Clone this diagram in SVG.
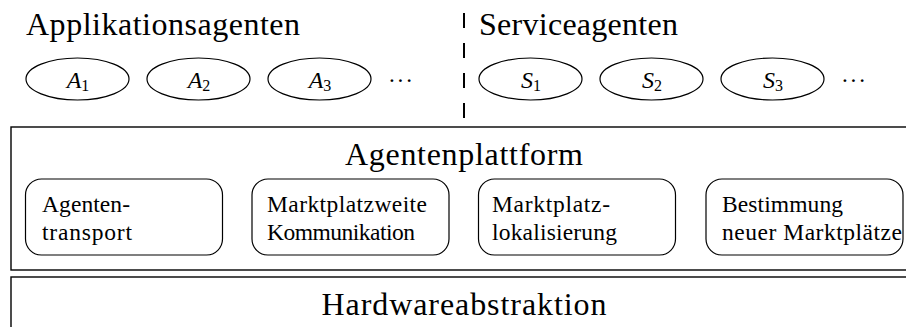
<svg xmlns="http://www.w3.org/2000/svg" width="906" height="327" viewBox="0 0 906 327">
<style>
text{font-family:"Liberation Serif","DejaVu Serif",serif;fill:#000}
.title{font-size:32px}
.lbl{font-size:23.5px}
.math{font-size:24px}
.agent{fill:#fff;stroke:#000;stroke-width:1.2}
.mod{fill:#fff;stroke:#000;stroke-width:1.2}
.layer{fill:#fff;stroke:#000;stroke-width:1.4}
.sep{stroke:#000;stroke-width:2;stroke-dasharray:15 15;fill:none}
.sub{font-size:16px;font-style:normal}
</style>
<rect width="906" height="327" fill="#fff"/>
<g id="titles">
<text class="title" x="26" y="35" textLength="274" lengthAdjust="spacing">Applikationsagenten</text>
<text class="title" x="479" y="35" textLength="199" lengthAdjust="spacing">Serviceagenten</text>
</g>
<g id="connectors">
<line class="sep" x1="464" y1="13" x2="464" y2="118"/>
</g>
<g id="A1"><ellipse class="agent" cx="77.5" cy="79" rx="51.5" ry="21"/><text class="math" x="78" y="88" text-anchor="middle"><tspan font-style="italic">A</tspan><tspan class="sub" dy="3">1</tspan></text></g>
<g id="A2"><ellipse class="agent" cx="198.5" cy="79" rx="51.5" ry="21"/><text class="math" x="199" y="88" text-anchor="middle"><tspan font-style="italic">A</tspan><tspan class="sub" dy="3">2</tspan></text></g>
<g id="A3"><ellipse class="agent" cx="319.5" cy="79" rx="51.5" ry="21"/><text class="math" x="320" y="88" text-anchor="middle"><tspan font-style="italic">A</tspan><tspan class="sub" dy="3">3</tspan></text></g>
<g id="Adots"><text class="lbl" x="388" y="88" textLength="25" lengthAdjust="spacing">· · ·</text></g>
<g id="S1"><ellipse class="agent" cx="530.5" cy="79" rx="51.5" ry="21"/><text class="math" x="531" y="88" text-anchor="middle"><tspan font-style="italic">S</tspan><tspan class="sub" dy="3">1</tspan></text></g>
<g id="S2"><ellipse class="agent" cx="651.5" cy="79" rx="51.5" ry="21"/><text class="math" x="652" y="88" text-anchor="middle"><tspan font-style="italic">S</tspan><tspan class="sub" dy="3">2</tspan></text></g>
<g id="S3"><ellipse class="agent" cx="772.5" cy="79" rx="51.5" ry="21"/><text class="math" x="773" y="88" text-anchor="middle"><tspan font-style="italic">S</tspan><tspan class="sub" dy="3">3</tspan></text></g>
<g id="Sdots"><text class="lbl" x="841" y="88" textLength="25" lengthAdjust="spacing">· · ·</text></g>
<g id="platform">
<rect class="layer" x="11" y="127" width="906" height="143"/>
<text class="title" x="464" y="165" text-anchor="middle" textLength="238" lengthAdjust="spacing">Agentenplattform</text>
</g>
<g id="transport">
<rect class="mod" x="25.5" y="179" width="197" height="76" rx="16"/>
<text class="lbl" x="42" y="212" textLength="88" lengthAdjust="spacing">Agenten-</text>
<text class="lbl" x="42" y="240" textLength="90" lengthAdjust="spacing">transport</text>
</g>
<g id="kommunikation">
<rect class="mod" x="252" y="179" width="197" height="76" rx="16"/>
<text class="lbl" x="267" y="212" textLength="160" lengthAdjust="spacing">Marktplatzweite</text>
<text class="lbl" x="267" y="240" textLength="148" lengthAdjust="spacing">Kommunikation</text>
</g>
<g id="lokalisierung">
<rect class="mod" x="478.5" y="179" width="197" height="76" rx="16"/>
<text class="lbl" x="492" y="212" textLength="118" lengthAdjust="spacing">Marktplatz-</text>
<text class="lbl" x="492" y="240" textLength="125" lengthAdjust="spacing">lokalisierung</text>
</g>
<g id="bestimmung">
<rect class="mod" x="706" y="179" width="197" height="76" rx="16"/>
<text class="lbl" x="722" y="212" textLength="121" lengthAdjust="spacing">Bestimmung</text>
<text class="lbl" x="722" y="240" textLength="180" lengthAdjust="spacing">neuer Marktplätze</text>
</g>
<g id="hardware">
<rect class="layer" x="11" y="277" width="906" height="80"/>
<text class="title" x="464" y="315" text-anchor="middle" textLength="285" lengthAdjust="spacing">Hardwareabstraktion</text>
</g>
</svg>
